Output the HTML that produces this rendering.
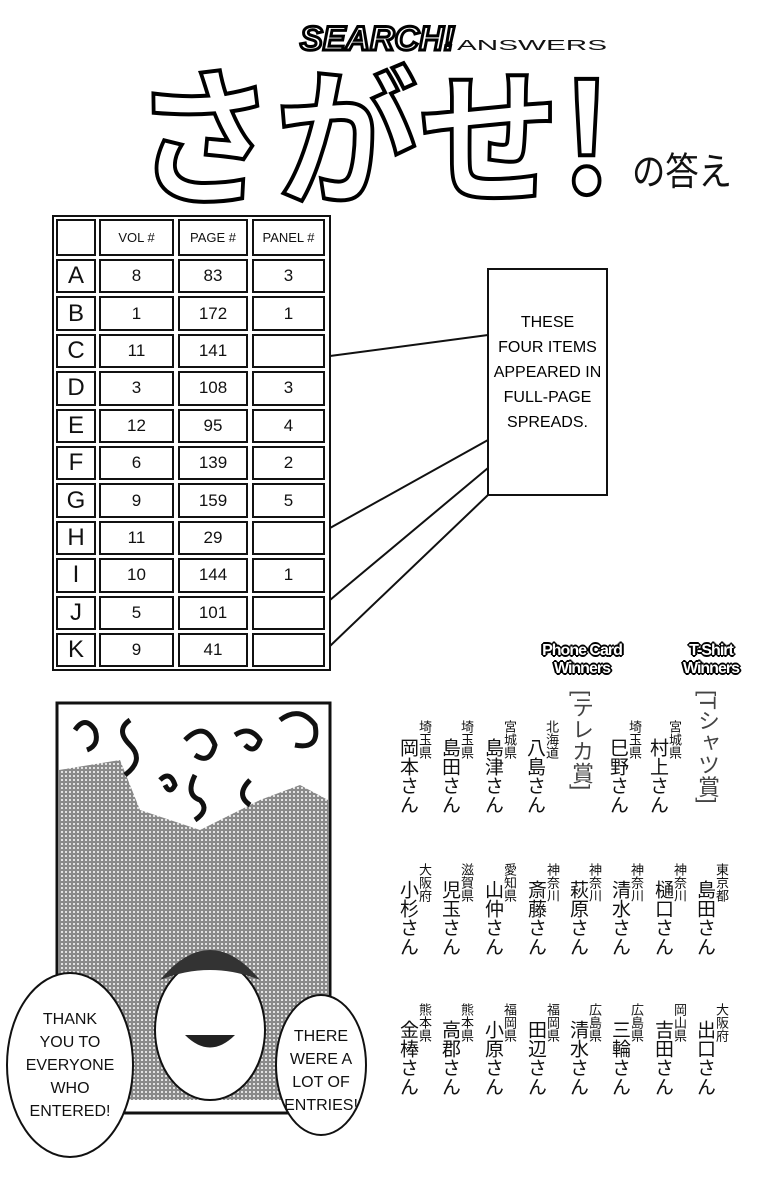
<!DOCTYPE html>
<html><head><meta charset="utf-8"><style>
body{margin:0;background:#fff;}
#p{position:relative;width:781px;height:1200px;overflow:hidden;background:#fff;font-family:"Liberation Sans","Noto Sans CJK JP",sans-serif;}
.a{position:absolute;}
.v{position:absolute;writing-mode:vertical-rl;font-family:"Liberation Sans","Noto Sans CJK JP",sans-serif;color:#111;line-height:1;}
.pf{font-size:13px;}
.nm{font-size:19px;}
.cell{position:absolute;border:2px solid #111;box-sizing:border-box;display:flex;align-items:center;justify-content:center;font-size:17px;color:#111;}
.hd{font-size:13px;}
.lt{font-size:24px;font-weight:normal;}
.hl{font-family:"Liberation Sans",sans-serif;font-weight:bold;font-size:16px;color:#fff;text-align:center;line-height:1.1;white-space:nowrap;letter-spacing:-1px;text-shadow:-1px -1px 0 #000,1px -1px 0 #000,-1px 1px 0 #000,1px 1px 0 #000,0 2px 0 #000,2px 0 0 #000,-2px 0 0 #000,0 -2px 0 #000;}
</style></head><body><div id="p">

<svg class="a" style="left:0;top:0" width="781" height="215">
 <text x="300" y="50" font-family="Liberation Sans" font-weight="bold" font-style="italic" font-size="34" fill="#fff" stroke="#000" stroke-width="3" textLength="155" lengthAdjust="spacingAndGlyphs">SEARCH!</text>
 <text x="457" y="50" font-family="Liberation Sans" font-size="15" fill="#111" textLength="150" lengthAdjust="spacingAndGlyphs">ANSWERS</text>
 <text x="133" y="193" font-family="Noto Sans CJK JP" font-weight="bold" font-size="150" fill="#fff" stroke="#000" stroke-width="4" textLength="480" lengthAdjust="spacingAndGlyphs">さがせ!</text>
 <text x="632" y="185" font-family="Noto Sans CJK JP" font-size="38" fill="#111" textLength="100" lengthAdjust="spacingAndGlyphs">の答え</text>
</svg>

<script>
(function(){
 var t=document.getElementById('p');
 var cols=[[55,43],[98,78],[177,73],[251,76]];
 var rows=[["","VOL #","PAGE #","PANEL #"],["A","8","83","3"],["B","1","172","1"],["C","11","141",""],["D","3","108","3"],["E","12","95","4"],["F","6","139","2"],["G","9","159","5"],["H","11","29",""],["I","10","144","1"],["J","5","101",""],["K","9","41",""]];
 var y=218;
 for(var r=0;r<rows.length;r++){
  var h=r==0?40:37.4;
  for(var c=0;c<4;c++){
   var d=document.createElement('div');
   d.className='cell'+(r==0?' hd':'')+(c==0&&r>0?' lt':'');
   d.style.left=(cols[c][0]+1)+'px';d.style.top=(y+1)+'px';
   d.style.width=(cols[c][1]-3)+'px';d.style.height=(h-3)+'px';
   d.textContent=rows[r][c];
   t.appendChild(d);
  }
  y+=h;
 }
})();
</script>
<div class="a" style="left:52px;top:215px;width:279px;height:456px;border:2px solid #111;box-sizing:border-box"></div>

<div class="a" style="left:487px;top:268px;width:121px;height:228px;border:2px solid #111;box-sizing:border-box;text-align:center;font-size:16px;line-height:25px;padding-top:40px">THESE<br>FOUR ITEMS<br>APPEARED IN<br>FULL-PAGE<br>SPREADS.</div>
<svg class="a" style="left:0;top:0" width="781" height="700">
 <g stroke="#111" stroke-width="2" fill="none">
  <line x1="330" y1="356" x2="488" y2="335"/>
  <line x1="330" y1="528" x2="488" y2="440"/>
  <line x1="330" y1="600" x2="488" y2="468"/>
  <line x1="330" y1="646" x2="488" y2="495"/>
 </g>
</svg>

<svg class="a" style="left:0;top:690" width="400" height="510">
 <defs>
  <pattern id="dt" width="4" height="4" patternUnits="userSpaceOnUse">
   <rect width="4" height="4" fill="#8a8a8a"/><circle cx="2" cy="2" r="1" fill="#fff"/>
  </pattern>
 </defs>
 <rect x="57" y="13" width="273" height="410" fill="#fff" stroke="#111" stroke-width="3"/>
 <path d="M59 80 L120 70 L140 120 L200 140 L260 110 L300 95 L328 110 L328 410 L59 410 Z" fill="url(#dt)"/>
 <g fill="none" stroke="#111" stroke-width="5">
  <path d="M75 40 q10 -15 20 0 q5 15 -8 20"/><path d="M130 30 q-15 10 0 25 q15 15 -5 30"/>
  <path d="M185 50 q20 -20 30 5 q-5 20 -20 10"/><path d="M235 45 q15 -10 25 5 q-5 15 -15 5"/>
  <path d="M280 30 q20 -15 35 5 q5 25 -20 20"/><path d="M160 90 q10 -10 15 5 q-5 10 -10 0"/>
  <path d="M195 85 q-10 20 5 25 q10 10 -5 20"/><path d="M250 90 q-15 15 0 25"/>
 </g>
 <ellipse cx="210" cy="340" rx="55" ry="70" fill="#fff" stroke="#111" stroke-width="2"/>
 <path d="M160 290 q50 -60 100 0 q-50 -20 -100 0z" fill="#333"/>
 <path d="M185 345 q25 25 50 0" fill="#222"/>
 <ellipse cx="70" cy="375" rx="63" ry="92" fill="#fff" stroke="#111" stroke-width="2"/>
 <ellipse cx="321" cy="375" rx="45" ry="70" fill="#fff" stroke="#111" stroke-width="2"/>
</svg>
<div class="a" style="left:10px;top:1008px;width:120px;text-align:center;font-size:16px;line-height:23px;color:#111">THANK<br>YOU TO<br>EVERYONE<br>WHO<br>ENTERED!</div>
<div class="a" style="left:276px;top:1025px;width:90px;text-align:center;font-size:16px;line-height:23px;color:#111">THERE<br>WERE A<br>LOT OF<br>ENTRIES!</div>

<div class="a hl" style="left:532px;top:642px;width:100px">Phone Card<br>Winners</div>
<div class="a hl" style="left:670px;top:642px;width:82px">T-Shirt<br>Winners</div>
<div class="v" style="left:570px;top:690px;font-size:22px;color:#444">[テレカ賞]</div>
<div class="v" style="left:696px;top:690px;font-size:22px;color:#444">[Tシャツ賞]</div>

<script>
(function(){
 var p=document.getElementById('p');
 function add(x,y,txt,cls){var d=document.createElement('div');d.className='v '+cls;d.style.left=x+'px';d.style.top=y+'px';d.textContent=txt;p.appendChild(d);}
 var r1=[[410,"埼玉県","岡本さん"],[452,"埼玉県","島田さん"],[495,"宮城県","島津さん"],[537,"北海道","八島さん"],[620,"埼玉県","巳野さん"],[660,"宮城県","村上さん"]];
 var r2=[[410,"大阪府","小杉さん"],[452,"滋賀県","児玉さん"],[495,"愛知県","山仲さん"],[538,"神奈川","斎藤さん"],[580,"神奈川","萩原さん"],[622,"神奈川","清水さん"],[665,"神奈川","樋口さん"],[707,"東京都","島田さん"]];
 var r3=[[410,"熊本県","金棒さん"],[452,"熊本県","高郡さん"],[495,"福岡県","小原さん"],[538,"福岡県","田辺さん"],[580,"広島県","清水さん"],[622,"広島県","三輪さん"],[665,"岡山県","吉田さん"],[707,"大阪府","出口さん"]];
 [[r1,720,738],[r2,863,880],[r3,1003,1020]].forEach(function(R){
  R[0].forEach(function(c){add(c[0]+8,R[1],c[1],'pf');add(c[0]-12,R[2],c[2],'nm');});
 });
})();
</script>
</div></body></html>
